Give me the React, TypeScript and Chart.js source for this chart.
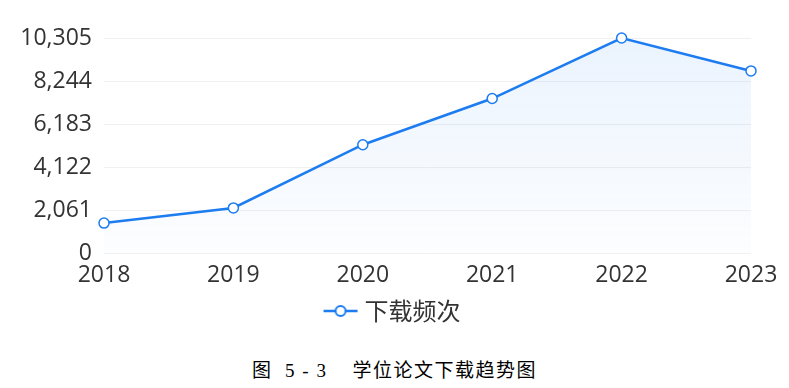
import React, { useEffect, useRef } from "react";
import { Chart, registerables } from "chart.js";

Chart.register(...registerables);

const categories = ["2018", "2019", "2020", "2021", "2022", "2023"];
const downloads = [1450, 2175, 5200, 7410, 10305, 8730];
const seriesLabel = "下载频次";
const yMax = 10305;
const yStep = 2061;
const caption = "图  5 - 3    学位论文下载趋势图";

const BLUE = "rgb(28,124,240)";

function makeLegendIcon(): HTMLCanvasElement {
  const c = document.createElement("canvas");
  c.width = 36;
  c.height = 14;
  const ctx = c.getContext("2d")!;
  ctx.strokeStyle = BLUE;
  ctx.lineWidth = 2.5;
  ctx.beginPath();
  ctx.moveTo(1, 7);
  ctx.lineTo(35, 7);
  ctx.stroke();
  ctx.beginPath();
  ctx.arc(18, 7, 5, 0, Math.PI * 2);
  ctx.fillStyle = "#fff";
  ctx.fill();
  ctx.lineWidth = 2;
  ctx.stroke();
  return c;
}

export default function App() {
  const ref = useRef<HTMLCanvasElement | null>(null);

  useEffect(() => {
    document.body.style.margin = "0";
    const canvas = ref.current!;
    const icon = makeLegendIcon();
    const tickFont = { size: 23, family: "'Open Sans', 'Noto Sans', sans-serif" };
    const chart = new Chart(canvas, {
      type: "line",
      data: {
        labels: categories,
        datasets: [
          {
            label: seriesLabel,
            data: downloads,
            borderColor: BLUE,
            borderWidth: 2.5,
            pointRadius: 5,
            pointBorderWidth: 1.5,
            pointBackgroundColor: "#fff",
            pointBorderColor: BLUE,
            tension: 0,
            clip: false,
            fill: "origin",
            backgroundColor: (ctx: any) => {
              const area = ctx.chart.chartArea;
              if (!area) return "rgba(28,124,240,0.08)";
              const g = ctx.chart.ctx.createLinearGradient(0, area.top, 0, area.bottom);
              g.addColorStop(0, "rgba(28,124,240,0.09)");
              g.addColorStop(1, "rgba(28,124,240,0.01)");
              return g;
            },
          },
        ],
      },
      options: {
        animation: false,
        responsive: false,
        maintainAspectRatio: false,
        layout: { padding: { top: 38, left: 0, right: 0, bottom: 0 } },
        plugins: {
          tooltip: { enabled: false },
          legend: {
            position: "bottom",
            labels: {
              font: { size: 24, family: "'Noto Sans CJK SC', 'Noto Sans', sans-serif" },
              color: "#333",
              usePointStyle: true,
              padding: 10,
              generateLabels: () => [
                {
                  text: seriesLabel,
                  pointStyle: icon,
                  fillStyle: BLUE,
                  strokeStyle: BLUE,
                  lineWidth: 0,
                  hidden: false,
                  datasetIndex: 0,
                  fontColor: "#333",
                },
              ],
            },
          },
        },
        scales: {
          x: {
            offset: false,
            grid: { display: false },
            border: { display: false },
            ticks: {
              color: "#333",
              font: tickFont,
              padding: 0,
              maxRotation: 0,
            },
          },
          y: {
            min: 0,
            max: yMax,
            grid: { color: "#f0f0f0", drawTicks: false },
            border: { display: false },
            afterFit: (scale: any) => {
              scale.width = 104;
            },
            ticks: {
              stepSize: yStep,
              color: "#333",
              font: tickFont,
              padding: 12,
            },
          },
          yRight: {
            position: "right",
            min: 0,
            max: yMax,
            grid: { display: false, drawTicks: false },
            border: { display: false },
            ticks: { display: false },
            afterFit: (scale: any) => {
              scale.width = 38;
            },
          },
        },
      },
    });
    return () => chart.destroy();
  }, []);

  return (
    <div style={{ width: 789, height: 388, background: "#fff", position: "relative" }}>
      <canvas ref={ref} width={789} height={333} style={{ display: "block" }} />
      <div
        style={{
          position: "absolute",
          top: 355,
          left: 0,
          width: 789,
          textAlign: "center",
          fontFamily: "'Liberation Serif', 'Noto Sans CJK SC', serif",
          fontSize: 19,
          letterSpacing: 1.5,
          color: "#000",
          whiteSpace: "pre",
        }}
      >
        {caption}
      </div>
    </div>
  );
}
